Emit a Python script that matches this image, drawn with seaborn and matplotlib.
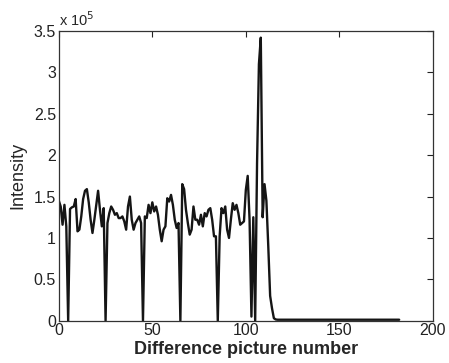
import matplotlib
matplotlib.use("Agg")
import matplotlib.pyplot as plt
import seaborn as sns
from matplotlib.ticker import FuncFormatter

# frame index and intensity (units of 1e5)
frames = list(range(183))
intensity = [
    1.45, 1.38, 1.16, 1.40, 1.14, 0.00, 1.35, 1.37, 1.38, 1.47,
    1.08, 1.10, 1.26, 1.47, 1.57, 1.59, 1.43, 1.22, 1.06, 1.22,
    1.40, 1.57, 1.34, 1.14, 1.36, 0.00, 1.18, 1.30, 1.38, 1.34,
    1.28, 1.30, 1.24, 1.24, 1.26, 1.20, 1.10, 1.38, 1.50, 1.22,
    1.10, 1.18, 1.22, 1.26, 1.18, 0.00, 1.26, 1.24, 1.40, 1.30,
    1.43, 1.32, 1.38, 1.28, 1.10, 0.96, 1.10, 1.14, 1.48, 1.44,
    1.52, 1.40, 1.22, 1.12, 1.18, 0.00, 1.65, 1.59, 1.34, 1.18,
    1.04, 1.10, 1.38, 1.22, 1.22, 1.16, 1.28, 1.14, 1.30, 1.26,
    1.34, 1.36, 1.22, 1.02, 1.02, 0.00, 1.02, 1.36, 1.30, 1.38,
    1.10, 1.00, 1.22, 1.42, 1.34, 1.40, 1.30, 1.16, 1.18, 1.20,
    1.58, 1.75, 1.22, 0.05, 1.25, 0.00, 1.90, 3.10, 3.42, 1.25,
    1.65, 1.45, 0.90, 0.30, 0.15, 0.03, 0.015, 0.012, 0.012, 0.011,
    0.012, 0.013, 0.012, 0.011, 0.012, 0.012, 0.013, 0.012, 0.011, 0.012,
    0.012, 0.012, 0.011, 0.012, 0.013, 0.012, 0.012, 0.011, 0.012, 0.012,
    0.013, 0.012, 0.011, 0.012, 0.012, 0.012, 0.013, 0.012, 0.011, 0.012,
    0.012, 0.012, 0.011, 0.012, 0.013, 0.012, 0.012, 0.011, 0.012, 0.012,
    0.013, 0.012, 0.011, 0.012, 0.012, 0.012, 0.013, 0.012, 0.011, 0.012,
    0.012, 0.012, 0.011, 0.012, 0.013, 0.012, 0.012, 0.011, 0.012, 0.012,
    0.012, 0.012, 0.012,
]
intensity = [v * 1e5 for v in intensity]

x_ticks = [0, 50, 100, 150, 200]
y_ticks = [0, 0.5e5, 1e5, 1.5e5, 2e5, 2.5e5, 3e5, 3.5e5]

sns.set_style("white")
plt.rcParams["font.family"] = ["Liberation Sans", "DejaVu Sans"]

fig = plt.figure(figsize=(4.49, 3.63), dpi=100)
ax = fig.add_axes([0.131, 0.1165, 0.833, 0.798])

sns.lineplot(x=frames, y=intensity, ax=ax, color="#151515", linewidth=1.7)

ax.set_xlim(0, 200)
ax.set_ylim(0, 3.5e5)
ax.set_xticks(x_ticks)
ax.set_yticks(y_ticks)
ax.yaxis.set_major_formatter(FuncFormatter(lambda v, p: f"{v / 1e5:g}"))
ax.tick_params(direction="in", length=4, width=0.8, labelsize=11.5,
               top=True, right=True, colors="#222222", pad=2)
for s in ax.spines.values():
    s.set_color("#333333")
    s.set_linewidth(0.9)

ax.set_xlabel("Difference picture number", fontsize=13, fontweight="bold", labelpad=2)
ax.set_ylabel("Intensity", fontsize=13, labelpad=5)
ax.text(0.0, 1.008, r"x 10$^5$", transform=ax.transAxes, ha="left", va="bottom",
        fontsize=10.5)

fig.savefig("out.png", dpi=100)
